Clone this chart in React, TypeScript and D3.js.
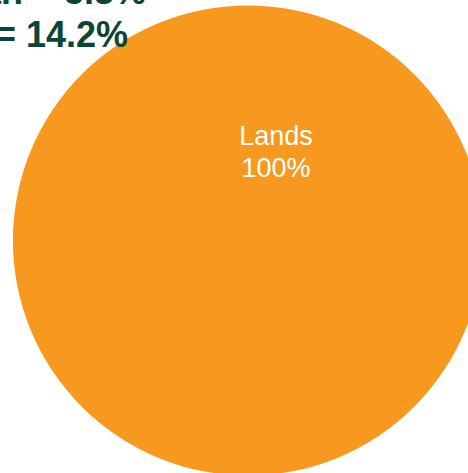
import React from "react";
import * as d3 from "d3";

const categories = ["Lands"];
const values = [100];
const statLabels = ["Median = 5.3%", "Mean = 14.2%"];

const W = 468;
const H = 473;
const cx = 248;
const cy = 240.5;
const R = 235;
const colors = ["#F7991F"];

export default function App() {
  const pie = d3.pie<number>().sort(null).value((d) => d);
  const arcs = pie(values);
  const arc = d3.arc<d3.PieArcDatum<number>>().innerRadius(0).outerRadius(R);
  const total = d3.sum(values);
  const fmt = d3.format(".0%");
  return (
    <svg
      width={W}
      height={H}
      style={{ position: "absolute", left: 0, top: 0, display: "block" }}
      fontFamily="'Liberation Sans', Arial, sans-serif"
    >
      <rect width={W} height={H} fill="#ffffff" />
      <g transform={`translate(${cx},${cy})`}>
        {arcs.map((a, i) => (
          <path key={i} d={arc(a) || ""} fill={colors[i % colors.length]} />
        ))}
        {arcs.map((a, i) => (
          <text key={"l" + i} x={28} y={-96} fill="#ffffff" fontSize={27} textAnchor="middle">
            <tspan x={28} dy={0}>{categories[i]}</tspan>
            <tspan x={28} dy={32}>{fmt(a.value / total)}</tspan>
          </text>
        ))}
      </g>
      <text x={146} y={4} fontSize={36} fontWeight="bold" fill="#0C4535" textAnchor="end">
        {statLabels[0]}
      </text>
      <text x={128} y={47} fontSize={36} fontWeight="bold" fill="#0C4535" textAnchor="end">
        {statLabels[1]}
      </text>
    </svg>
  );
}
